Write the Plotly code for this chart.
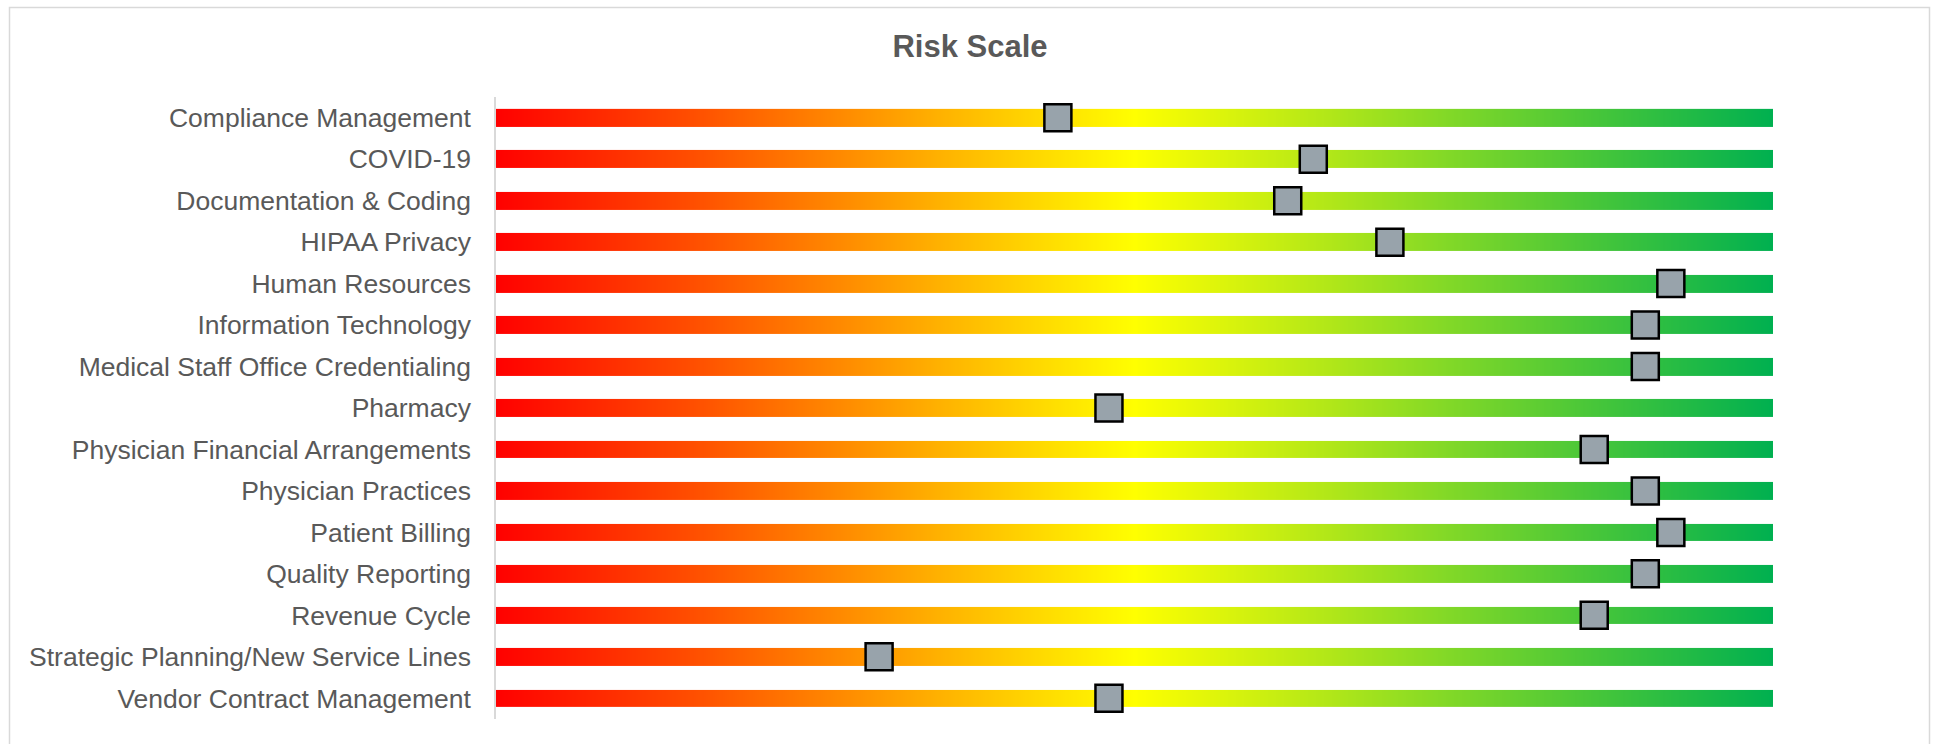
import numpy as np
import plotly.graph_objects as go

categories = [
    "Compliance Management",
    "COVID-19",
    "Documentation & Coding",
    "HIPAA Privacy",
    "Human Resources",
    "Information Technology",
    "Medical Staff Office Credentialing",
    "Pharmacy",
    "Physician Financial Arrangements",
    "Physician Practices",
    "Patient Billing",
    "Quality Reporting",
    "Revenue Cycle",
    "Strategic Planning/New Service Lines",
    "Vendor Contract Management",
]
scores = [2.2, 3.2, 3.1, 3.5, 4.6, 4.5, 4.5, 2.4, 4.3, 4.5, 4.6, 4.5, 4.3, 1.5, 2.4]
scale_min = 0.0
scale_max = 5.0

W, H = 1939, 744
L, R, T, B = 496, 166, 97, 25

n = len(categories)
ypos = list(range(n))
half = 0.2135
ncols = 640
xedges = np.linspace(scale_min, scale_max, ncols + 1)
xmid = (xedges[:-1] + xedges[1:]) / 2

yedges = []
zrows = []
for i in ypos:
    yedges += [i - half, i + half]
    zrows.append(list(xmid))
    if i < n - 1:
        zrows.append([np.nan] * ncols)
zrows = np.array(zrows, dtype=float)

fig = go.Figure()
fig.add_trace(go.Heatmap(
    x=xedges, y=yedges, z=zrows,
    colorscale=[[0, "#FF0000"], [0.5, "#FFFF00"], [1, "#00B050"]],
    zmin=scale_min, zmax=scale_max,
    showscale=False, hoverinfo="skip", zsmooth=False,
))
fig.add_trace(go.Scatter(
    x=scores, y=ypos, mode="markers",
    marker=dict(symbol="square", size=27, color="#98A3AB",
                line=dict(color="#000000", width=2.5)),
    text=categories,
    hovertemplate="%{text}: %{x}<extra></extra>",
    showlegend=False,
))

fig.update_layout(
    width=W, height=H,
    margin=dict(l=L, r=R, t=T, b=B),
    paper_bgcolor="white", plot_bgcolor="white",
    title=dict(text="<b>Risk Scale</b>", x=970 / W, xref="container", xanchor="center",
               y=1 - 46 / H, yref="container", yanchor="middle",
               font=dict(family="Liberation Sans, Arial", size=31, color="#595959")),
    font=dict(family="Liberation Sans, Arial", color="#595959"),
    showlegend=False,
    shapes=[dict(type="rect", xref="paper", yref="paper",
                 x0=(9.5 - L) / (W - L - R), x1=(1929.5 - L) / (W - L - R),
                 y0=-(760 - (H - B)) / (H - T - B), y1=1 + (T - 7.5) / (H - T - B),
                 line=dict(color="#D9D9D9", width=1.5), fillcolor="rgba(0,0,0,0)", layer="below")],
)
fig.update_xaxes(range=[scale_min, scale_max], visible=False, showgrid=False, zeroline=False)
fig.update_yaxes(
    range=[n - 0.5, -0.5], tickvals=ypos, ticktext=categories,
    showgrid=False, zeroline=False, showline=True, linecolor="#D9D9D9", linewidth=1.5,
    ticks="outside", ticklen=18, tickcolor="rgba(0,0,0,0)",
    tickfont=dict(family="Liberation Sans, Arial", size=26.5, color="#595959"),
)

fig.write_html("out.html")
